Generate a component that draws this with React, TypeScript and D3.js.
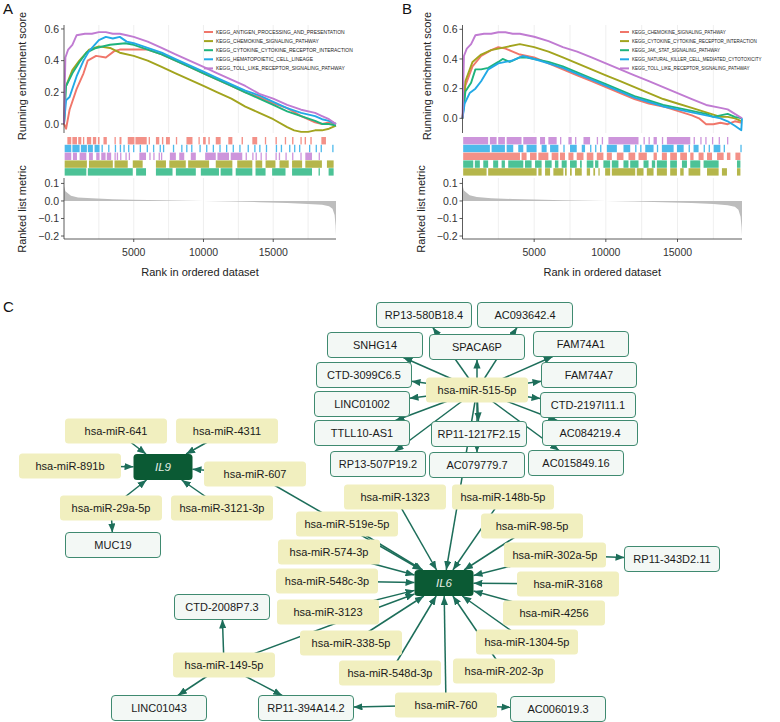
import * as d3 from 'd3';

type Pt = [number, number];
type Run = [number, number];

// ---------- GSEA data ----------
const N_GENES = 19500;
const xTicks = [5000, 10000, 15000];
const gridRanks = [2500, 5000, 7500, 10000, 12500, 15000, 17500];
const esTicks = [0, 0.2, 0.4, 0.6];
const metricTicks = [0.1, 0, -0.1, -0.2];

const namesA = [
  'KEGG_ANTIGEN_PROCESSING_AND_PRESENTATION',
  'KEGG_CHEMOKINE_SIGNALING_PATHWAY',
  'KEGG_CYTOKINE_CYTOKINE_RECEPTOR_INTERACTION',
  'KEGG_HEMATOPOIETIC_CELL_LINEAGE',
  'KEGG_TOLL_LIKE_RECEPTOR_SIGNALING_PATHWAY',
];
const namesB = [
  'KEGG_CHEMOKINE_SIGNALING_PATHWAY',
  'KEGG_CYTOKINE_CYTOKINE_RECEPTOR_INTERACTION',
  'KEGG_JAK_STAT_SIGNALING_PATHWAY',
  'KEGG_NATURAL_KILLER_CELL_MEDIATED_CYTOTOXICITY',
  'KEGG_TOLL_LIKE_RECEPTOR_SIGNALING_PATHWAY',
];
const setColors = ['#f0766a', '#a2a41e', '#1fb37c', '#22a9e6', '#c07bd2'];

// running enrichment score, [rank, ES]
const esA_antigen: Pt[] = [[0, 0], [150, -0.03], [400, 0.09], [900, 0.22], [1400, 0.32], [1700, 0.4], [2300, 0.43], [3000, 0.42], [3600, 0.46], [4000, 0.47], [4500, 0.47], [5000, 0.47], [6000, 0.47], [7000, 0.44], [8000, 0.4], [9000, 0.36], [10000, 0.32], [11000, 0.28], [12000, 0.24], [13000, 0.2], [14000, 0.17], [15000, 0.13], [16000, 0.1], [17000, 0.05], [18000, 0.01], [18500, 0.0], [19000, 0.01], [19500, 0.0]];
const esA_chemokine: Pt[] = [[0, 0], [100, 0.23], [600, 0.34], [1100, 0.4], [1800, 0.47], [2500, 0.49], [3300, 0.48], [4000, 0.45], [5000, 0.43], [6000, 0.4], [7000, 0.36], [8000, 0.32], [9000, 0.28], [10000, 0.24], [11000, 0.2], [12000, 0.16], [13000, 0.11], [14000, 0.07], [15000, 0.03], [16000, -0.02], [16500, -0.04], [17000, -0.05], [17500, -0.05], [18000, -0.04], [18500, -0.04], [19000, -0.03], [19500, -0.01]];
const esA_cytokine: Pt[] = [[0, 0], [150, 0.24], [600, 0.32], [1100, 0.39], [1600, 0.45], [2300, 0.48], [3300, 0.5], [4400, 0.51], [5000, 0.5], [6000, 0.47], [7000, 0.44], [8000, 0.4], [9000, 0.36], [10000, 0.32], [11000, 0.28], [12000, 0.24], [13000, 0.2], [14000, 0.16], [15000, 0.12], [16000, 0.08], [17000, 0.05], [18000, 0.02], [18500, 0.0], [19000, 0.0], [19500, -0.01]];
const esA_hemato: Pt[] = [[0, 0], [150, 0.15], [400, 0.17], [900, 0.3], [1400, 0.4], [1800, 0.46], [2500, 0.53], [3000, 0.55], [3500, 0.54], [4000, 0.55], [4500, 0.52], [5000, 0.51], [6000, 0.48], [7000, 0.45], [8000, 0.41], [9000, 0.37], [10000, 0.33], [11000, 0.29], [12000, 0.25], [13000, 0.21], [14000, 0.18], [15000, 0.14], [16000, 0.1], [17000, 0.07], [18000, 0.05], [18500, 0.03], [19000, 0.02], [19500, 0.0]];
const esA_toll: Pt[] = [[0, 0], [100, 0.42], [300, 0.47], [600, 0.5], [900, 0.56], [1500, 0.57], [2000, 0.57], [2500, 0.58], [3000, 0.58], [3500, 0.57], [4000, 0.57], [4500, 0.56], [5000, 0.55], [6000, 0.52], [7000, 0.48], [8000, 0.44], [9000, 0.4], [10000, 0.36], [11000, 0.32], [12000, 0.28], [13000, 0.24], [14000, 0.19], [15000, 0.16], [16000, 0.12], [17000, 0.09], [18000, 0.07], [18500, 0.05], [19000, 0.03], [19500, 0.0]];

const esB_chemokine: Pt[] = [[0, 0], [200, 0.22], [700, 0.35], [1300, 0.42], [2000, 0.46], [2500, 0.48], [3000, 0.47], [3500, 0.45], [4000, 0.43], [5000, 0.41], [6000, 0.37], [7000, 0.33], [8000, 0.29], [9000, 0.25], [10000, 0.21], [11000, 0.17], [12000, 0.13], [13000, 0.1], [14000, 0.08], [15000, 0.05], [16000, 0.02], [16500, 0.0], [17000, -0.04], [17500, -0.04], [18000, -0.03], [18500, -0.04], [19000, -0.02], [19500, -0.03]];
const esB_cytokine: Pt[] = [[0, 0], [200, 0.25], [700, 0.38], [1300, 0.43], [2000, 0.46], [3000, 0.48], [4000, 0.5], [4500, 0.49], [5000, 0.48], [6000, 0.45], [7000, 0.41], [8000, 0.37], [9000, 0.33], [10000, 0.29], [11000, 0.25], [12000, 0.21], [13000, 0.17], [14000, 0.13], [15000, 0.1], [16000, 0.07], [17000, 0.04], [18000, 0.01], [18500, 0.01], [19000, 0.0], [19500, -0.02]];
const esB_jak: Pt[] = [[0, 0], [200, 0.18], [600, 0.24], [900, 0.33], [1300, 0.33], [1800, 0.34], [2500, 0.38], [2800, 0.4], [3300, 0.38], [4000, 0.41], [4500, 0.41], [5000, 0.4], [6000, 0.38], [7000, 0.35], [8000, 0.31], [9000, 0.27], [10000, 0.23], [11000, 0.19], [12000, 0.15], [13000, 0.12], [14000, 0.09], [15000, 0.07], [16000, 0.05], [17000, 0.03], [17500, 0.01], [18000, 0.02], [18500, 0.03], [19000, 0.01], [19500, 0.0]];
const esB_nk: Pt[] = [[0, 0], [150, 0.1], [500, 0.17], [900, 0.2], [1300, 0.25], [1800, 0.33], [2500, 0.37], [3000, 0.38], [3500, 0.39], [4200, 0.42], [5000, 0.4], [6000, 0.37], [7000, 0.34], [8000, 0.3], [9000, 0.26], [10000, 0.22], [11000, 0.18], [12000, 0.14], [13000, 0.11], [14000, 0.08], [15000, 0.06], [16000, 0.04], [17000, 0.02], [18000, 0.0], [18500, -0.02], [19000, -0.05], [19450, -0.08], [19500, 0.0]];
const esB_toll: Pt[] = [[0, 0], [100, 0.42], [300, 0.47], [600, 0.5], [900, 0.56], [1500, 0.57], [2000, 0.57], [2500, 0.58], [3000, 0.58], [3500, 0.57], [4000, 0.57], [4500, 0.56], [5000, 0.55], [6000, 0.52], [7000, 0.48], [8000, 0.45], [9000, 0.41], [10000, 0.37], [11000, 0.33], [12000, 0.29], [13000, 0.25], [14000, 0.21], [15000, 0.17], [16000, 0.13], [17000, 0.09], [18000, 0.07], [18500, 0.06], [19000, 0.03], [19500, 0.0]];

// gene-set hit positions, as [fromRank, toRank] runs
const hitsA_antigen: Run[] = [[240, 520], [600, 930], [1020, 1240], [1360, 1400], [1640, 1950], [2070, 2310], [2430, 2550], [2830, 3070], [3620, 3690], [3980, 4120], [4570, 5050], [5120, 5930], [6070, 6160], [6590, 6830], [7020, 7120], [7310, 7590], [8020, 8090], [8780, 9210], [9640, 9730], [9970, 10160], [10350, 10450], [10880, 11230], [11780, 12070], [12730, 12830], [13500, 13850], [14400, 14490], [15160, 15260], [15830, 15920], [16350, 16450], [16950, 17040], [17250, 17350], [17660, 17760], [18450, 18780]];
const hitsA_chemokine: Run[] = [[48, 1640], [1790, 3500], [3620, 4570], [4930, 5640], [6590, 7310], [7550, 8730], [8900, 10400], [10880, 12070], [12420, 13500], [13730, 14210], [14450, 15160], [15450, 16110], [16350, 17070], [17300, 18490], [18850, 19330]];
const hitsA_cytokine: Run[] = [[48, 1600], [1710, 4930], [5170, 5880], [6590, 7780], [8020, 9450], [9810, 11110], [11230, 12070], [12310, 13500], [13730, 14450], [14920, 15880], [16350, 17780], [18250, 18260], [18970, 19330]];
const hitsA_hemato: Run[] = [[48, 520], [600, 1120], [1210, 1640], [1710, 2070], [2190, 2550], [2690, 2690], [3165, 3165], [3641, 3641], [3998, 3998], [4260, 4260], [4593, 4593], [4950, 4950], [5426, 5426], [5926, 5926], [6378, 6378], [6854, 6854], [7092, 7092], [7806, 7806], [8401, 8401], [8758, 8758], [9115, 9115], [9710, 9710], [10186, 10186], [10662, 10662], [11138, 11138], [11614, 11614], [12090, 12090], [12566, 12566], [13162, 13162], [13637, 13637], [13994, 13994], [14470, 14470], [15184, 15184], [15541, 15541], [16136, 16136], [16493, 16493], [16850, 16850], [17564, 17564], [18040, 18040], [18397, 18397], [19230, 19230]];
const hitsA_toll: Run[] = [[48, 520], [640, 930], [1120, 1600], [1790, 2070], [2310, 2550], [2670, 2980], [3070, 3380], [3618, 3618], [3784, 3784], [4022, 4022], [4403, 4403], [4641, 4641], [5400, 5880], [6116, 6116], [6402, 6402], [6783, 6783], [6950, 6950], [7590, 8020], [8260, 8620], [9090, 9450], [10120, 10880], [11000, 11830], [11950, 12780], [13019, 13019], [13495, 13495], [13733, 13733], [14090, 14090], [14447, 14447], [15161, 15161], [15399, 15399], [15875, 15875], [16351, 16351], [16946, 16946], [17300, 17780], [18255, 18255]];

const hitsB_chemokine: Run[] = [[47, 4010], [4120, 4470], [4710, 5170], [5290, 5990], [6220, 6690], [6800, 7150], [7390, 7740], [7970, 8440], [8670, 9130], [9370, 9830], [10070, 10420], [10770, 11230], [11580, 12050], [12280, 12860], [13330, 13560], [13910, 14260], [14490, 14960], [15190, 15660], [15890, 16120], [16470, 16820], [17060, 17410], [17760, 18220], [18450, 18690], [19040, 19390]];
const hitsB_cytokine: Run[] = [[47, 1680], [1790, 5170], [5290, 5520], [5760, 6110], [6340, 7040], [7150, 7270], [7500, 7620], [7850, 8320], [8670, 8900], [9130, 9250], [9480, 9480], [9950, 10300], [10420, 12050], [12160, 12630], [12860, 13330], [13560, 14260], [14490, 14960], [15190, 15430], [15770, 16590], [17060, 17870], [18100, 18450], [19150, 19390]];
const hitsB_jak: Run[] = [[47, 750], [860, 1210], [1450, 1790], [2140, 2490], [2730, 2960], [3190, 4240], [4360, 4820], [5060, 5520], [5760, 6220], [6450, 6690], [6920, 7270], [7500, 7970], [8200, 8320], [8670, 9130], [9250, 9480], [9830, 10300], [10420, 10880], [11230, 11580], [11700, 12280], [12630, 12980], [13210, 13440], [13560, 14260], [14490, 14960], [15310, 15660], [15890, 16590], [16820, 17870], [19150, 19390]];
const hitsB_nk: Run[] = [[47, 1910], [2030, 2960], [3080, 3540], [3890, 4240], [4470, 5170], [5520, 5870], [6110, 6690], [7037, 7037], [7500, 7970], [8320, 8550], [8901, 8901], [9250, 9250], [9600, 9600], [10070, 10770], [11230, 11700], [12046, 12046], [12396, 12396], [12750, 13330], [13561, 13561], [13910, 14730], [14960, 15430], [15774, 15774], [16120, 16470], [16823, 16823], [17172, 17172], [17520, 17990], [18221, 18221], [19386, 19386]];
const hitsB_toll: Run[] = [[47, 1790], [1910, 2380], [2490, 2960], [3080, 4120], [4240, 5170], [5410, 5760], [5990, 6570], [6804, 6804], [7390, 7620], [7852, 7852], [8440, 8900], [9367, 9367], [9716, 9716], [10180, 12280], [12629, 12629], [12978, 12978], [13330, 13560], [13910, 13910], [14260, 15890], [16124, 16124], [16590, 16590], [16939, 16939], [17405, 17405], [17871, 17871], [18454, 18454]];

// ranked list metric, [rank, value]
const metricA: Pt[] = [[0, 0.085], [100, 0.055], [500, 0.03], [1000, 0.02], [2000, 0.015], [3500, 0.01], [5000, 0.007], [7000, 0.004], [9000, 0.001], [10000, 0], [12000, -0.003], [14000, -0.007], [16000, -0.012], [17500, -0.017], [18500, -0.022], [19000, -0.03], [19250, -0.045], [19400, -0.08], [19470, -0.14], [19500, -0.2]];
const metricB: Pt[] = [[0, 0.09], [100, 0.06], [500, 0.033], [1000, 0.022], [2000, 0.016], [3500, 0.011], [5000, 0.008], [7000, 0.004], [9000, 0.001], [10000, 0], [12000, -0.003], [14000, -0.007], [16000, -0.012], [17500, -0.018], [18500, -0.025], [19000, -0.033], [19250, -0.05], [19400, -0.09], [19470, -0.15], [19500, -0.2]];

// ---------- network data ----------
const mirnaNodes = ['hsa-miR-641', 'hsa-miR-4311', 'hsa-miR-891b', 'hsa-miR-607', 'hsa-miR-29a-5p', 'hsa-miR-3121-3p', 'hsa-miR-515-5p', 'hsa-miR-1323', 'hsa-miR-148b-5p', 'hsa-miR-519e-5p', 'hsa-miR-98-5p', 'hsa-miR-574-3p', 'hsa-miR-302a-5p', 'hsa-miR-548c-3p', 'hsa-miR-3168', 'hsa-miR-3123', 'hsa-miR-4256', 'hsa-miR-338-5p', 'hsa-miR-1304-5p', 'hsa-miR-149-5p', 'hsa-miR-548d-3p', 'hsa-miR-202-3p', 'hsa-miR-760'];
const lncNodes = ['RP13-580B18.4', 'AC093642.4', 'SNHG14', 'SPACA6P', 'FAM74A1', 'CTD-3099C6.5', 'FAM74A7', 'LINC01002', 'CTD-2197I11.1', 'TTLL10-AS1', 'RP11-1217F2.15', 'AC084219.4', 'RP13-507P19.2', 'AC079779.7', 'AC015849.16', 'MUC19', 'RP11-343D2.11', 'CTD-2008P7.3', 'LINC01043', 'RP11-394A14.2', 'AC006019.3'];
const mrnaNodes = ['IL9', 'IL6'];

const il9Regulators = ['hsa-miR-641', 'hsa-miR-4311', 'hsa-miR-891b', 'hsa-miR-607', 'hsa-miR-29a-5p', 'hsa-miR-3121-3p'];
const il6Regulators = ['hsa-miR-607', 'hsa-miR-515-5p', 'hsa-miR-1323', 'hsa-miR-148b-5p', 'hsa-miR-519e-5p', 'hsa-miR-98-5p', 'hsa-miR-574-3p', 'hsa-miR-302a-5p', 'hsa-miR-548c-3p', 'hsa-miR-3168', 'hsa-miR-3123', 'hsa-miR-4256', 'hsa-miR-338-5p', 'hsa-miR-1304-5p', 'hsa-miR-548d-3p', 'hsa-miR-202-3p', 'hsa-miR-760', 'hsa-miR-149-5p'];
const mir515Targets = ['RP13-580B18.4', 'AC093642.4', 'SPACA6P', 'SNHG14', 'CTD-3099C6.5', 'LINC01002', 'TTLL10-AS1', 'RP13-507P19.2', 'RP11-1217F2.15', 'AC079779.7', 'FAM74A1', 'FAM74A7', 'CTD-2197I11.1', 'AC084219.4', 'AC015849.16'];
const otherEdges: [string, string][] = [
  ['hsa-miR-29a-5p', 'MUC19'],
  ['hsa-miR-302a-5p', 'RP11-343D2.11'],
  ['hsa-miR-760', 'AC006019.3'],
  ['hsa-miR-760', 'RP11-394A14.2'],
  ['hsa-miR-149-5p', 'CTD-2008P7.3'],
  ['hsa-miR-149-5p', 'LINC01043'],
  ['hsa-miR-149-5p', 'RP11-394A14.2'],
];

// node layout (box centres)
const layout: Record<string, [number, number]> = {
  'hsa-miR-641': [116, 431], 'hsa-miR-4311': [227, 431], 'hsa-miR-891b': [70, 466], IL9: [163, 467],
  'hsa-miR-607': [255, 474], 'hsa-miR-29a-5p': [111, 508], 'hsa-miR-3121-3p': [222, 508], MUC19: [113, 545],
  'RP13-580B18.4': [424, 315], 'AC093642.4': [525, 315], SNHG14: [375, 345], SPACA6P: [477, 347],
  FAM74A1: [581, 344], 'CTD-3099C6.5': [364, 375], FAM74A7: [589, 375], 'hsa-miR-515-5p': [477, 390],
  LINC01002: [362, 404], 'CTD-2197I11.1': [588, 405], 'TTLL10-AS1': [362, 433], 'RP11-1217F2.15': [479, 434],
  'AC084219.4': [590, 433], 'RP13-507P19.2': [378, 464], 'AC079779.7': [477, 465], 'AC015849.16': [576, 463],
  'hsa-miR-1323': [395, 497], 'hsa-miR-148b-5p': [503, 497], 'hsa-miR-519e-5p': [347, 524], 'hsa-miR-98-5p': [532, 526],
  'hsa-miR-574-3p': [329, 552], 'hsa-miR-302a-5p': [555, 555], 'RP11-343D2.11': [672, 559], 'hsa-miR-548c-3p': [327, 581],
  IL6: [444, 583], 'hsa-miR-3168': [568, 584], 'hsa-miR-3123': [328, 612], 'hsa-miR-4256': [554, 613],
  'CTD-2008P7.3': [222, 607], 'hsa-miR-338-5p': [351, 643], 'hsa-miR-1304-5p': [527, 642], 'hsa-miR-149-5p': [224, 665],
  'hsa-miR-548d-3p': [390, 673], 'hsa-miR-202-3p': [504, 671], LINC01043: [159, 708], 'RP11-394A14.2': [306, 708],
  'hsa-miR-760': [446, 705], 'AC006019.3': [558, 709],
};

const FONT = '"Liberation Sans", Arial, Helvetica, sans-serif';
const EDGE = '#1d6e5a';

// ---------- GSEA panel ----------
interface PanelSpec {
  tag: string;
  tagX: number;
  xRange: [number, number];
  esDomain: [number, number];
  curves: Pt[][];
  hits: Run[][];
  rowOrder: number[];
  names: string[];
  metric: Pt[];
  legendX: number;
  legendScale: number;
  esTitleX: number;
  metricTitleX: number;
}

const TOP_Y = 25;
const TOP_BOT = 133;
const HIT_Y = 137;
const ROW_H = 7.8;
const MET_TOP = 178;
const MET_BOT = 239;

const GseaPanel = ({ p }: { p: PanelSpec }) => {
  const x = d3.scaleLinear().domain([0, N_GENES]).range(p.xRange);
  const yEs = d3.scaleLinear().domain(p.esDomain).range([TOP_BOT, TOP_Y]);
  const yM = d3.scaleLinear().domain([-0.217, 0.131]).range([MET_BOT, MET_TOP]);
  const line = d3.line<Pt>().x(d => x(d[0])).y(d => yEs(d[1]));
  const area = d3.area<Pt>().x(d => x(d[0])).y0(yM(0)).y1(d => yM(d[1]));
  const [x0, x1] = p.xRange;
  const cx = (x0 + x1) / 2;

  return (
    <g fontFamily={FONT}>
      <text x={p.tagX} y={14} fontSize={15} fill="#111">{p.tag}</text>
      {/* grid */}
      {gridRanks.map(r => (
        <g key={r}>
          <line x1={x(r)} x2={x(r)} y1={TOP_Y} y2={TOP_BOT} stroke="#ebebeb" strokeWidth={0.8} />
          <line x1={x(r)} x2={x(r)} y1={MET_TOP} y2={MET_BOT} stroke="#ebebeb" strokeWidth={0.8} />
        </g>
      ))}
      {/* running ES */}
      {p.curves.map((c, i) => (
        <path key={i} d={line(c) || ''} fill="none" stroke={setColors[i]} strokeWidth={1.9} strokeLinejoin="round" />
      ))}
      {/* legend */}
      {p.names.map((n, i) => (
        <g key={n} transform={`translate(${p.legendX},${32 + i * 9.1})`}>
          <line x1={0} x2={9} y1={0} y2={0} stroke={setColors[i]} strokeWidth={2} />
          <text transform={`translate(12,0) scale(${p.legendScale},1)`} dy="0.35em" fontSize={5.4} fill="#222">{n}</text>
        </g>
      ))}
      {/* ES axis */}
      <line x1={x0} x2={x0} y1={TOP_Y} y2={TOP_BOT} stroke="#333" strokeWidth={0.8} />
      {esTicks.map(t => (
        <g key={t}>
          <line x1={x0 - 3} x2={x0} y1={yEs(t)} y2={yEs(t)} stroke="#333" strokeWidth={0.8} />
          <text x={x0 - 5} y={yEs(t)} dy="0.35em" textAnchor="end" fontSize={10.5} fill="#333">{t.toFixed(1)}</text>
        </g>
      ))}
      <text transform={`translate(${p.esTitleX},76) rotate(-90)`} textAnchor="middle" dy="0.35em" fontSize={11} fill="#222">Running enrichment score</text>
      {/* hits */}
      {p.rowOrder.map((si, row) => (
        <g key={si}>
          {p.hits[si].map((h, k) => (
            <rect key={k} x={x(h[0])} y={HIT_Y + row * ROW_H} width={Math.max(1.3, x(h[1]) - x(h[0]))} height={ROW_H - 0.4} fill={setColors[si]} opacity={0.8} />
          ))}
        </g>
      ))}
      {/* ranked metric */}
      <path d={area(p.metric) || ''} fill="#bdbdbd" />
      <line x1={x0} x2={x0} y1={MET_TOP} y2={MET_BOT} stroke="#333" strokeWidth={0.8} />
      <line x1={x0} x2={x1} y1={MET_BOT} y2={MET_BOT} stroke="#333" strokeWidth={0.8} />
      {metricTicks.map(t => (
        <g key={t}>
          <line x1={x0 - 3} x2={x0} y1={yM(t)} y2={yM(t)} stroke="#333" strokeWidth={0.8} />
          <text x={x0 - 5} y={yM(t)} dy="0.35em" textAnchor="end" fontSize={10.5} fill="#333">{t < 0 ? `\u2212${Math.abs(t).toFixed(1)}` : t.toFixed(1)}</text>
        </g>
      ))}
      {xTicks.map(t => (
        <g key={t}>
          <line x1={x(t)} x2={x(t)} y1={MET_BOT} y2={MET_BOT + 3} stroke="#333" strokeWidth={0.8} />
          <text x={x(t)} y={MET_BOT + 17} textAnchor="middle" fontSize={10.5} fill="#333">{t}</text>
        </g>
      ))}
      <text x={cx} y={276} textAnchor="middle" fontSize={11} fill="#222">Rank in ordered dataset</text>
      <text transform={`translate(${p.metricTitleX},209) rotate(-90)`} textAnchor="middle" dy="0.35em" fontSize={11} fill="#222">Ranked list metric</text>
    </g>
  );
};

const panelA: PanelSpec = {
  tag: 'A', tagX: 3, xRange: [64, 336], esDomain: [-0.057, 0.625],
  curves: [esA_antigen, esA_chemokine, esA_cytokine, esA_hemato, esA_toll],
  hits: [hitsA_antigen, hitsA_chemokine, hitsA_cytokine, hitsA_hemato, hitsA_toll],
  rowOrder: [0, 3, 4, 1, 2], names: namesA, metric: metricA,
  legendX: 204, legendScale: 0.92, esTitleX: 22, metricTitleX: 22,
};
const panelB: PanelSpec = {
  tag: 'B', tagX: 402, xRange: [462.5, 742], esDomain: [-0.099, 0.629],
  curves: [esB_chemokine, esB_cytokine, esB_jak, esB_nk, esB_toll],
  hits: [hitsB_chemokine, hitsB_cytokine, hitsB_jak, hitsB_nk, hitsB_toll],
  rowOrder: [4, 3, 0, 2, 1], names: namesB, metric: metricB,
  legendX: 620, legendScale: 0.84, esTitleX: 427, metricTitleX: 421,
};

// ---------- network ----------
const boxSize = (n: string): [number, number] => {
  if (mrnaNodes.includes(n)) return [59, 26];
  if (lncNodes.includes(n)) return [95, 25];
  return [102, 25];
};

const Network = () => {
  const edges: [string, string][] = [
    ...il9Regulators.map(m => [m, 'IL9'] as [string, string]),
    ...il6Regulators.map(m => [m, 'IL6'] as [string, string]),
    ...mir515Targets.map(t => ['hsa-miR-515-5p', t] as [string, string]),
    ...otherEdges,
  ];

  const segs = edges.map(([s, t]) => {
    const [sx, sy] = layout[s];
    const [tx, ty] = layout[t];
    const [w, h] = boxSize(t);
    const dx = tx - sx;
    const dy = ty - sy;
    const k = Math.min(dx === 0 ? Infinity : (w / 2) / Math.abs(dx), dy === 0 ? Infinity : (h / 2) / Math.abs(dy));
    return { key: `${s}-${t}`, x1: sx, y1: sy, x2: tx - dx * k, y2: ty - dy * k };
  });

  const all = [...mirnaNodes, ...lncNodes, ...mrnaNodes];

  return (
    <g fontFamily={FONT}>
      <text x={3} y={312} fontSize={15} fill="#111">C</text>
      <defs>
        <marker id="arr" viewBox="0 0 10 8" refX={10} refY={4} markerWidth={9} markerHeight={7.2} markerUnits="userSpaceOnUse" orient="auto">
          <path d="M0,0 L10,4 L0,8 Z" fill={EDGE} />
        </marker>
      </defs>
      {segs.map(s => (
        <line key={s.key} x1={s.x1} y1={s.y1} x2={s.x2} y2={s.y2} stroke={EDGE} strokeWidth={1.5} markerEnd="url(#arr)" />
      ))}
      {all.map(n => {
        const [cx, cy] = layout[n];
        const [w, h] = boxSize(n);
        const isM = mrnaNodes.includes(n);
        const isL = lncNodes.includes(n);
        return (
          <g key={n}>
            <rect x={cx - w / 2} y={cy - h / 2} width={w} height={h} rx={3.5}
              fill={isM ? '#0b5a34' : isL ? '#f3f8f5' : '#f1efbf'}
              stroke={isL ? '#3f8a70' : 'none'} strokeWidth={1} />
            <text x={cx} y={cy} dy="0.36em" textAnchor="middle" fontSize={isM ? 11.5 : 11}
              fontStyle={isM ? 'italic' : 'normal'} fill={isM ? '#e6efe6' : '#1a1a1a'}>{n}</text>
          </g>
        );
      })}
    </g>
  );
};

export default function App() {
  return (
    <div style={{ position: 'absolute', left: 0, top: 0 }}>
      <svg width={780} height={722} style={{ display: 'block', background: '#fff' }}>
        <GseaPanel p={panelA} />
        <GseaPanel p={panelB} />
        <Network />
      </svg>
    </div>
  );
}
